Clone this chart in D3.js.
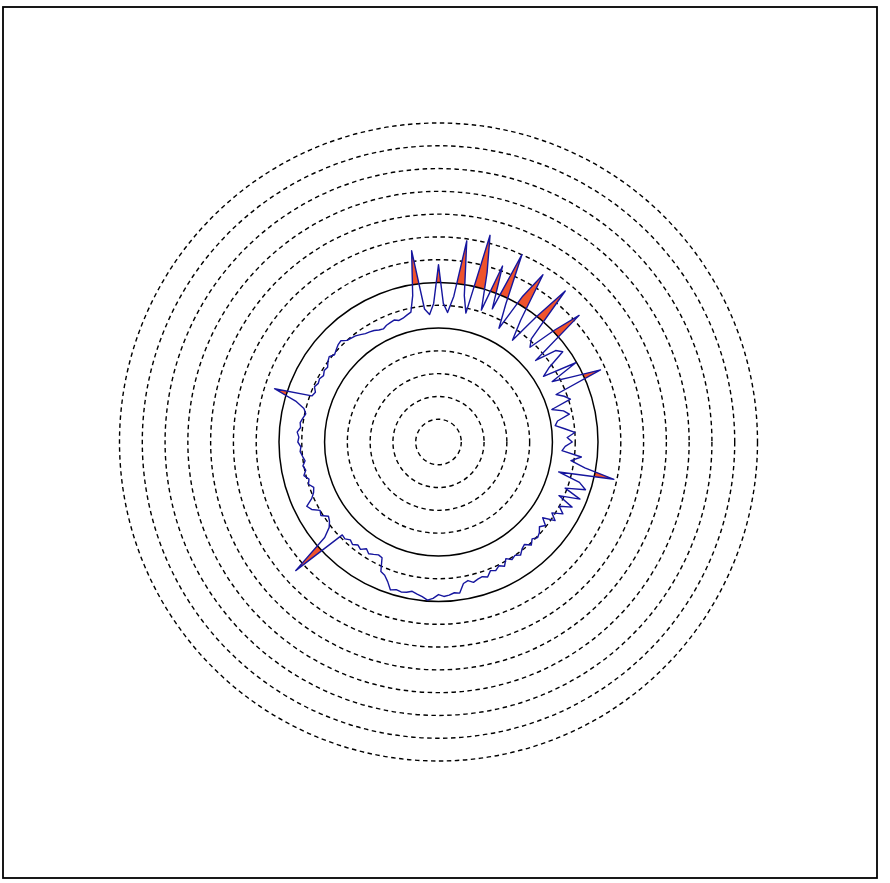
<!DOCTYPE html>
<html>
<head>
<meta charset="utf-8">
<script src="https://cdn.jsdelivr.net/npm/d3@7"></script>
<style>
    body { margin: 0; background: #fff; }
</style>
</head>
<body>
<svg id="chart" width="890" height="883"></svg>
<script>
// grid rings (same units as the signal)
const ringLevels = [23, 46, 69, 92, 115, 138, 161, 184, 207, 230, 253, 276, 299, 322];
const solidLevels = [115, 161];
const baseLevel = 161;

// signal radius every 2 degrees, starting at 12 o'clock, going clockwise
const signal = [
    // 0 - 48
    179, 140, 131, 148, 205, 150, 133, 215, 178, 140, 189, 145, 207,
    155, 130, 170, 199, 148, 127, 160, 199, 140, 133, 162, 191,
    // 50 - 98
    128, 150, 155, 135, 125, 160, 130, 150, 179, 128, 135, 140, 119,
    130, 135, 122, 119, 128, 138, 130, 135, 128, 125, 145, 135,
    // 100 - 148
    150, 181, 125, 148, 156, 136, 154, 133, 150, 138, 145, 135, 142,
    130, 137, 133, 137, 139, 136, 140, 135, 137, 141, 138, 140,
    // 150 - 198
    136, 142, 139, 142, 140, 145, 143, 144, 146, 143, 145, 154, 153,
    155, 156, 154, 158, 160, 157, 155, 153, 155, 156, 155, 157,
    // 200 - 248
    150, 145, 143, 130, 129, 131, 133, 130, 134, 132, 135, 133, 136,
    135, 194, 150, 140, 136, 134, 140, 138, 145, 148, 140, 136,
    // 250 - 298
    134, 138, 136, 140, 137, 139, 136, 138, 140, 139, 142, 141, 143,
    140, 141, 139, 137, 140, 150, 174, 136, 134, 137, 135, 136,
    // 300 - 358
    134, 136, 135, 138, 140, 137, 139, 141, 142, 138, 137, 136, 134,
    132, 131, 130, 128, 127, 129, 130, 131, 129, 130, 132, 134,
    150, 195, 135, 129, 140
];
const angleStep = 2;

const cx = 438.5, cy = 442;

const svg = d3.select('#chart');

// outer frame
svg.append('rect')
    .attr('x', 3)
    .attr('y', 7)
    .attr('width', 874)
    .attr('height', 871)
    .attr('fill', 'none')
    .attr('stroke', '#000')
    .attr('stroke-width', 1.8);

const r = d3.scaleLinear()
    .domain([0, 322])
    .range([0, 319]);

const g = svg.append('g')
    .attr('transform', `translate(${cx},${cy})`);

// dashed grid rings
g.selectAll('circle.ring')
    .data(ringLevels.filter(d => !solidLevels.includes(d)))
    .enter()
    .append('circle')
    .attr('class', 'ring')
    .attr('r', d => r(d))
    .attr('fill', 'none')
    .attr('stroke', '#000')
    .attr('stroke-width', 1.4)
    .attr('stroke-dasharray', '4.5,3.5');

const points = signal.map((v, i) => ({angle: i * angleStep, value: v}));

const line = d3.lineRadial()
    .angle(d => d.angle * Math.PI / 180)
    .radius(d => r(d.value))
    .curve(d3.curveLinearClosed);

// clip: everything outside the base circle
const R0 = r(baseLevel);
svg.append('defs')
    .append('clipPath')
    .attr('id', 'outsideBase')
    .append('path')
    .attr('clip-rule', 'evenodd')
    .attr('d', `M-600,-600H600V600H-600Z M${-R0},0a${R0},${R0} 0 1,0 ${2 * R0},0a${R0},${R0} 0 1,0 ${-2 * R0},0Z`);

// part of the signal above the base circle
g.append('path')
    .datum(points)
    .attr('d', line)
    .attr('fill', '#ef532c')
    .attr('stroke', 'none')
    .attr('clip-path', 'url(#outsideBase)');

// solid reference circles
g.selectAll('circle.solid')
    .data(solidLevels)
    .enter()
    .append('circle')
    .attr('class', 'solid')
    .attr('r', d => r(d))
    .attr('fill', 'none')
    .attr('stroke', '#000')
    .attr('stroke-width', 1.5);

// signal outline
g.append('path')
    .datum(points)
    .attr('d', line)
    .attr('fill', 'none')
    .attr('stroke', '#16169e')
    .attr('stroke-width', 1.4)
    .attr('stroke-linejoin', 'round');
</script>
</body>
</html>
